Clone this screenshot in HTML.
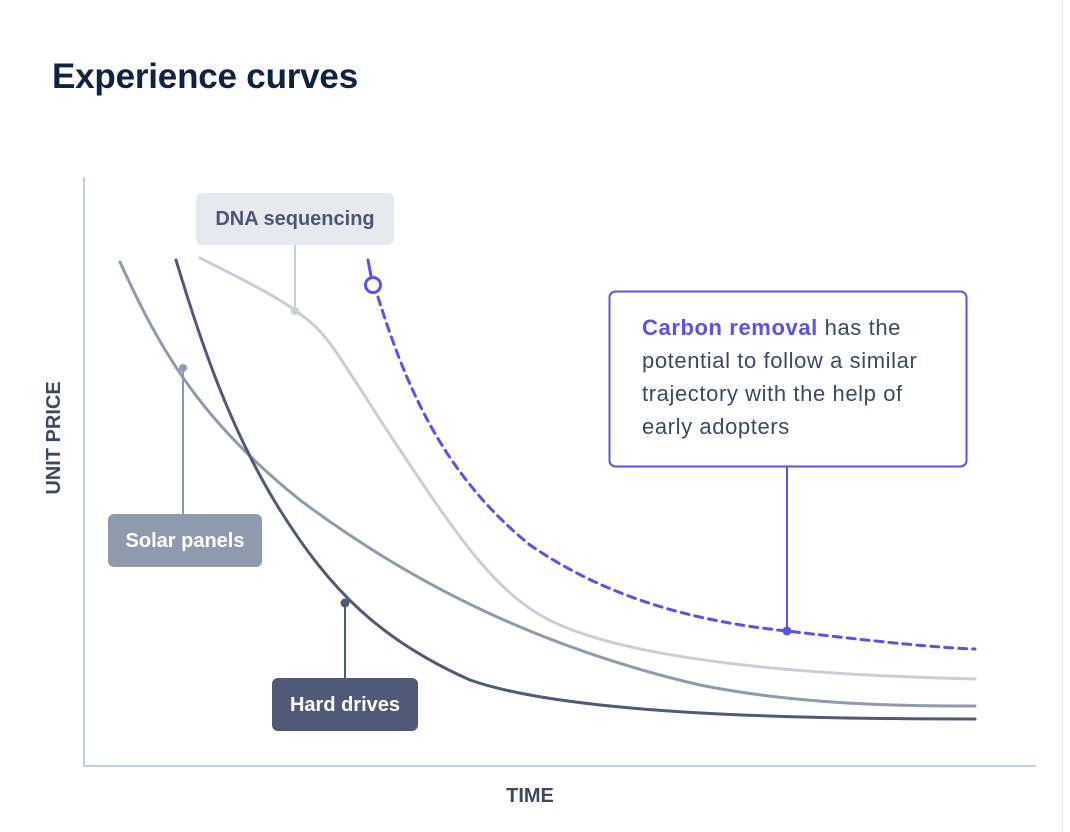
<!DOCTYPE html>
<html><head><meta charset="utf-8"><style>
body{margin:0;width:1070px;height:832px;background:#fff;overflow:hidden;font-family:"Liberation Sans",sans-serif;position:relative}
.r{position:absolute;right:7px;top:0;width:1px;height:832px;background:#e3e6ea}
h1{position:absolute;left:52px;top:57px;margin:0;font-size:35px;font-weight:bold;color:#0f2240;letter-spacing:-0.2px}
</style></head><body>
<div class="r"></div>
<h1>Experience curves</h1>
<svg width="1070" height="832" style="position:absolute;left:0;top:0">
<g fill="none" stroke-linecap="round">
<line x1="84" y1="178" x2="84" y2="766" stroke="#c4d0e0" stroke-width="2"/>
<line x1="84" y1="766" x2="1035" y2="766" stroke="#c4d0e0" stroke-width="2"/>
<line x1="295" y1="245" x2="295" y2="311" stroke="#c9ced8" stroke-width="2"/>
<line x1="183" y1="368" x2="183" y2="514" stroke="#8f9aae" stroke-width="2"/>
<line x1="345" y1="603" x2="345" y2="678" stroke="#505a78" stroke-width="2"/>
<line x1="787" y1="466" x2="787" y2="631" stroke="#5b50f5" stroke-width="2"/>
<path d="M200,258 C240,278 280,298 300,314 C330,334 340,360 400,450 C460,540 500,600 560,625 C640,660 800,675 975,679" stroke="#c9ced8" stroke-width="3"/>
<path d="M120,262 C160,350 200,420 300,500 C420,590 550,650 700,685 C800,705 900,706 975,706" stroke="#8f9aae" stroke-width="3"/>
<path d="M176,260 C200,340 230,430 280,510 C330,590 380,640 470,680 C570,715 800,719 975,719" stroke="#505a78" stroke-width="3"/>
<path d="M378,297 C410,400 450,480 530,545 C610,600 700,622 787,631 C880,642 940,648 975,649" stroke="#5b50f5" stroke-width="3" stroke-dasharray="8 6"/>
<line x1="368" y1="260" x2="371" y2="276" stroke="#5b50f5" stroke-width="3"/>
<circle cx="373" cy="285" r="7.5" fill="#fff" stroke="#5b50f5" stroke-width="3"/>
</g>
<circle cx="295" cy="311" r="4" fill="#c9ced8"/>
<circle cx="183" cy="368" r="4" fill="#8f9aae"/>
<circle cx="345" cy="603" r="4.5" fill="#505a78"/>
<circle cx="787" cy="631" r="4.5" fill="#5b50f5"/>
<rect x="196" y="193" width="198" height="52" rx="6" fill="#e6eaef"/>
<text x="295" y="225" text-anchor="middle" font-size="20" font-weight="bold" fill="#4d5670" font-family="Liberation Sans">DNA sequencing</text>
<rect x="108" y="514" width="154" height="53" rx="6" fill="#8f9aae"/>
<text x="185" y="547" text-anchor="middle" font-size="20" font-weight="bold" fill="#fff" font-family="Liberation Sans">Solar panels</text>
<rect x="272" y="678" width="146" height="53" rx="6" fill="#505a78"/>
<text x="345" y="711" text-anchor="middle" font-size="20" font-weight="bold" fill="#fff" font-family="Liberation Sans">Hard drives</text>
<rect x="609.5" y="291.5" width="357" height="175" rx="6" fill="#fff" stroke="#5b50f5" stroke-width="2"/>
<g font-size="22" fill="#3d4863" font-family="Liberation Sans" letter-spacing="0.6">
<text x="642" y="335"><tspan fill="#5b50f5" font-weight="bold">Carbon removal</tspan> has the</text>
<text x="642" y="368">potential to follow a similar</text>
<text x="642" y="401">trajectory with the help of</text>
<text x="642" y="434">early adopters</text>
</g>
<text x="530" y="802" text-anchor="middle" font-size="20" font-weight="bold" fill="#3d4863" font-family="Liberation Sans">TIME</text>
<text transform="translate(60,438) rotate(-90)" text-anchor="middle" font-size="20" font-weight="bold" fill="#3d4863" font-family="Liberation Sans">UNIT PRICE</text>
</svg>
</body></html>
